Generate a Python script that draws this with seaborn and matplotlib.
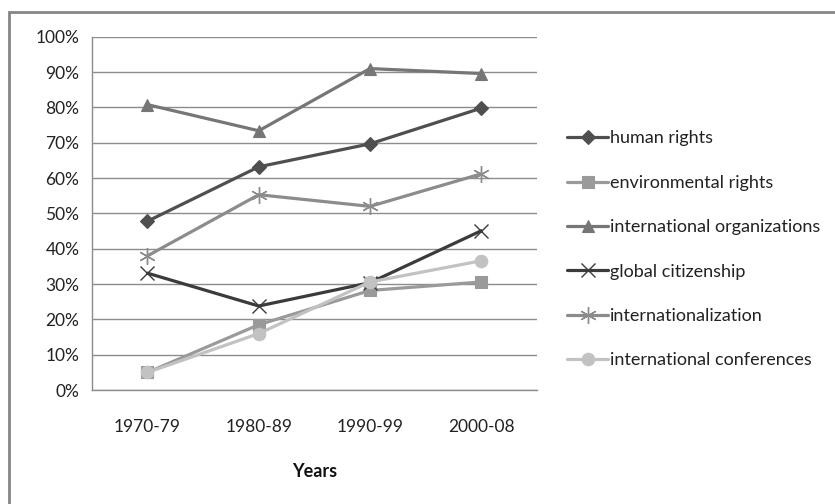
import pandas as pd
import matplotlib
matplotlib.use('Agg')
import matplotlib.pyplot as plt
from matplotlib.patches import Rectangle
from matplotlib.ticker import FixedLocator, PercentFormatter
import seaborn as sns

# Data (share in %)
years = ['1970-79', '1980-89', '1990-99', '2000-08']
human_rights = [47.8, 63.2, 69.7, 79.8]
environmental_rights = [5.0, 18.5, 28.2, 30.6]
international_organizations = [80.8, 73.4, 91.0, 89.6]
global_citizenship = [33.1, 23.8, 30.4, 45.1]
internationalization = [38.0, 55.3, 52.0, 61.2]
international_conferences = [5.0, 16.0, 30.6, 36.6]

series = {
    'human rights': human_rights,
    'environmental rights': environmental_rights,
    'international organizations': international_organizations,
    'global citizenship': global_citizenship,
    'internationalization': internationalization,
    'international conferences': international_conferences,
}
colors = {
    'human rights': '#4f4f4f',
    'environmental rights': '#9a9a9a',
    'international organizations': '#767676',
    'global citizenship': '#3b3b3b',
    'internationalization': '#8c8c8c',
    'international conferences': '#c2c2c2',
}
markers = {
    'human rights': 'D',
    'environmental rights': 's',
    'international organizations': '^',
    'global citizenship': 'x',
    'internationalization': (6, 2, 0),
    'international conferences': 'o',
}
sizes = {'human rights': 7, 'environmental rights': 8, 'international organizations': 9,
         'global citizenship': 10, 'internationalization': 12, 'international conferences': 9}

rows = []
for name, vals in series.items():
    for i, (yr, v) in enumerate(zip(years, vals)):
        rows.append({'pos': i, 'year': yr, 'value': v, 'series': name})
df = pd.DataFrame(rows)

sns.set_style('white')
plt.rcParams['font.family'] = ['Lato', 'DejaVu Sans']

fig = plt.figure(figsize=(8.35, 5.04), dpi=100)
ax = fig.add_axes([0.110, 0.226, 0.533, 0.701])

# outer chart frame (right and bottom edges fall outside the image)
fig.patches.append(Rectangle((0.011, -0.1), 1.2, 1.076, transform=fig.transFigure,
                             fill=False, edgecolor='#868686', linewidth=2.0))

for name in series:
    sub = df[df['series'] == name]
    m = markers[name]
    thin = m in ('x', (6, 2, 0))
    sns.lineplot(data=sub, x='pos', y='value', ax=ax, color=colors[name], linewidth=2.3,
                 marker=m, markersize=sizes[name], markeredgecolor=colors[name],
                 markeredgewidth=1.0 if thin else 0.8, label=name, legend=False)

ax.set_xlim(-0.5, 3.5)
ax.set_ylim(0, 100)
ax.yaxis.set_major_locator(FixedLocator(range(0, 101, 10)))
ax.yaxis.set_major_formatter(PercentFormatter(decimals=0))
ax.set_xticks(range(len(years)))
ax.set_xticklabels(years)
ax.xaxis.set_minor_locator(FixedLocator([-0.5, 0.5, 1.5, 2.5, 3.5]))
ax.tick_params(axis='x', which='major', length=0, pad=21, labelsize=12.5, labelcolor='#222222')
ax.tick_params(axis='x', which='minor', length=6, color='#8c8c8c', width=1, direction='out')
ax.tick_params(axis='y', which='major', length=5, color='#8c8c8c', width=1, direction='out',
               labelsize=12.5, labelcolor='#222222', pad=4)
ax.grid(axis='y', color='#8c8c8c', linewidth=1.0)
ax.set_axisbelow(True)
for side in ['top', 'right']:
    ax.spines[side].set_visible(False)
for side in ['left', 'bottom']:
    ax.spines[side].set_color('#8c8c8c')
    ax.spines[side].set_linewidth(1.0)

ax.set_xlabel('Years', fontsize=13, fontweight='bold', labelpad=20, color='#111111')
ax.set_ylabel('')

handles, labels = ax.get_legend_handles_labels()
fig.legend(handles, labels, loc='upper left', bbox_to_anchor=(0.668, 0.759), frameon=False,
           fontsize=13, handlelength=2.3, handletextpad=0.1, labelspacing=1.57,
           labelcolor='#222222', borderpad=0)

fig.savefig('out.png', dpi=100, facecolor='white')
